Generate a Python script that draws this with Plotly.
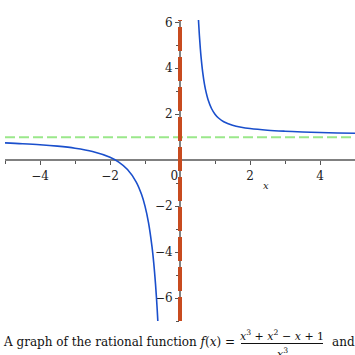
import plotly.graph_objects as go

# Values
left_x = [-5, -4.5, -4, -3.5, -3, -2.5, -2, -1.75, -1.5, -1.25, -1.1, -1, -0.9, -0.8, -0.75, -0.7, -0.67, -0.65, -0.63, -0.62]
left_y = [0.752, 0.717, 0.672, 0.609, 0.519, 0.376, 0.125, -0.085, -0.407, -0.952, -1.487, -2.0, -2.717, -3.766, -4.482, -5.385, -6.045, -6.546, -7.106, -7.41]
right_x = [0.5, 0.52, 0.55, 0.58, 0.6, 0.65, 0.7, 0.75, 0.8, 0.9, 1, 1.1, 1.25, 1.5, 1.75, 2, 2.5, 3, 3.5, 4, 4.5, 5]
right_y = [7.0, 6.337, 5.523, 4.877, 4.519, 3.813, 3.303, 2.926, 2.641, 2.248, 2.0, 1.834, 1.672, 1.519, 1.432, 1.375, 1.304, 1.259, 1.227, 1.203, 1.184, 1.168]
h_asym_x = [-5, 5]
h_asym_y = [1, 1]
v_asym_x = [0, 0]
v_asym_y = [-7, 6.1]

x_ticks = [-4, -2, 0, 2, 4]
x_ticktext = ["\u22124", "\u22122", "0\u2007\u00a0", "2", "4"]
y_ticks = [-6, -4, -2, 2, 4, 6]
y_ticktext = ["\u22126", "\u22124", "\u22122", "2", "4", "6"]
x_minor = [-5, -3, -1, 1, 3, 5]
y_minor = [-7, -5, -3, -1, 1, 3, 5]

X_RANGE = [-5, 5]
Y_RANGE = [-7, 6.1]

blue = "#1a4fcc"
fig = go.Figure()
fig.add_trace(go.Scatter(x=h_asym_x, y=h_asym_y, mode="lines",
                         line=dict(color="#9ae88a", width=2, dash="10px,4px"), hoverinfo="skip"))
fig.add_trace(go.Scatter(x=v_asym_x, y=v_asym_y, mode="lines",
                         line=dict(color="#c84b1f", width=4, dash="24px,6px"), hoverinfo="skip"))
fig.add_trace(go.Scatter(x=left_x, y=left_y, mode="lines", line_shape="spline",
                         line=dict(color=blue, width=1.6), hoverinfo="skip"))
fig.add_trace(go.Scatter(x=right_x, y=right_y, mode="lines", line_shape="spline",
                         line=dict(color=blue, width=1.6), hoverinfo="skip"))

W, H = 355, 355
L, R, T, B = 5, 0, 20, 34
pw, ph = W - L - R, H - T - B
def px_x(p):
    return (p - L) / pw
def px_y(p):
    return (H - B - p) / ph

y0frac = (0 - Y_RANGE[0]) / (Y_RANGE[1] - Y_RANGE[0])
x0frac = (0 - X_RANGE[0]) / (X_RANGE[1] - X_RANGE[0])

tickfont = dict(family="DejaVu Serif", size=12, color="#222")
fig.update_layout(
    width=W, height=H, margin=dict(l=L, r=R, t=T, b=B, autoexpand=False),
    plot_bgcolor="white", paper_bgcolor="white", showlegend=False,
    xaxis=dict(range=X_RANGE, anchor="free", position=y0frac, showline=True, automargin=False,
               linecolor="#808080", linewidth=2, ticks="outside", ticklen=4,
               tickcolor="#555", tickwidth=1, tickvals=x_ticks, ticktext=x_ticktext,
               tickfont=tickfont, showgrid=False, zeroline=False, layer="below traces",
               minor=dict(tickvals=x_minor, ticks="outside", ticklen=3, tickcolor="#555")),
    yaxis=dict(range=Y_RANGE, anchor="free", position=x0frac, side="left", showline=True, automargin=False,
               linecolor="#808080", linewidth=2, ticks="outside", ticklen=4,
               tickcolor="#555", tickwidth=1, tickvals=y_ticks, ticktext=y_ticktext,
               tickfont=tickfont, showgrid=False, zeroline=False, layer="below traces",
               minor=dict(tickvals=y_minor, ticks="outside", ticklen=3, tickcolor="#555")),
)

capfont = dict(family="DejaVu Serif", size=12, color="#111")
fracfont = dict(family="DejaVu Serif", size=11, color="#111")
fig.add_annotation(x=2.45, y=-1.1, xref="x", yref="y", text="<i>x</i>", showarrow=False,
                   font=dict(family="DejaVu Serif", size=10, color="#222"))
fig.add_annotation(x=px_x(1), y=px_y(342), xref="paper", yref="paper", xanchor="left", yanchor="middle",
                   text="A graph of the rational function <i>f</i>(<i>x</i>) =", showarrow=False, font=capfont)
fig.add_annotation(x=px_x(282), y=px_y(335), xref="paper", yref="paper", xanchor="center", yanchor="middle",
                   text="<i>x</i><sup>3</sup> + <i>x</i><sup>2</sup> \u2212 <i>x</i> + 1", showarrow=False, font=fracfont)
fig.add_annotation(x=px_x(282), y=px_y(353), xref="paper", yref="paper", xanchor="center", yanchor="middle",
                   text="<i>x</i><sup>3</sup>", showarrow=False, font=fracfont)
fig.add_annotation(x=px_x(330), y=px_y(342), xref="paper", yref="paper", xanchor="left", yanchor="middle",
                   text="and", showarrow=False, font=capfont)
fig.add_shape(type="line", xref="paper", yref="paper", x0=px_x(241), x1=px_x(323),
              y0=px_y(343.5), y1=px_y(343.5), line=dict(color="#111", width=1))

fig.write_html("out.html", config={"displayModeBar": False},
               post_script="document.body.style.margin='0';document.body.style.padding='0';")
